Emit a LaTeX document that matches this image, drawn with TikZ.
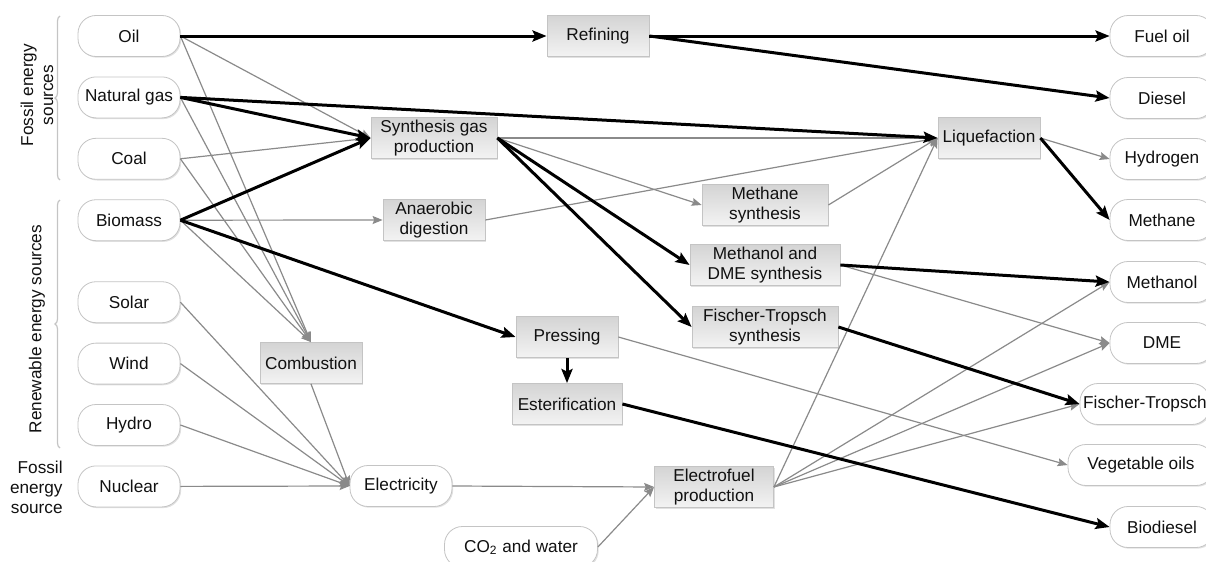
\documentclass[tikz,border=0pt]{standalone}
\usepackage{fontspec}
\setmainfont{Liberation Sans}
\usetikzlibrary{arrows.meta,positioning,shadows,decorations.pathreplacing}
\definecolor{Ink}{HTML}{111111}
\definecolor{Edge}{HTML}{C4C4C4}
\definecolor{Flow}{HTML}{8A8A8A}
\definecolor{BoxTop}{HTML}{D4D4D4}
\definecolor{BoxBottom}{HTML}{F3F3F3}
\definecolor{Shade}{HTML}{A8A8A8}

\begin{document}
\begin{tikzpicture}[
      x=0.5pt,y=-0.5pt,
      node distance=9.8pt,
      every node/.style={font=\fontsize{8.6}{10}\selectfont,text=Ink},
      pill/.style={draw=Edge,fill=white,rounded corners=9pt,align=center,
        minimum width=51pt,minimum height=20.5pt,inner sep=1pt,
        drop shadow={shadow xshift=0.6pt,shadow yshift=-0.6pt,fill=Shade,opacity=0.35}},
      box/.style={draw=Edge,top color=BoxTop,bottom color=BoxBottom,align=center,
        minimum width=51pt,minimum height=20.5pt,inner sep=1pt,
        drop shadow={shadow xshift=0.6pt,shadow yshift=-0.6pt,fill=Shade,opacity=0.35}},
      arrow/.style={-{Stealth[length=7pt,width=5.5pt,inset=1.2pt]},line width=1.5pt,color=black},
      flow/.style={-{Stealth[length=5pt,width=4pt,inset=0.8pt]},line width=0.6pt,color=Flow},
      bracket/.style={decorate,decoration={brace,amplitude=2.5pt},draw=Edge,line width=0.6pt}
    ]
      \useasboundingbox (0,0) rectangle (1206,562);

      % sources
      \node[pill] (oil) at (129,36) {Oil};
      \node[pill,below=of oil] (natgas) {Natural gas};
      \node[pill,below=of natgas] (coal) {Coal};
      \node[pill,below=of coal] (biomass) {Biomass};
      \node[pill,below=20.1pt of biomass] (solar) {Solar};
      \node[pill,below=of solar] (wind) {Wind};
      \node[pill,below=of wind] (hydro) {Hydro};
      \node[pill,below=of hydro] (nuclear) {Nuclear};

      \draw[bracket] (60,180) -- (60,16);
      \draw[bracket] (60,448) -- (60,200);
      \node[rotate=90,align=center] (fossiltag) at (37,95) {Fossil energy\\sources};
      \node[rotate=90] (renewtag) at (37,329) {Renewable energy sources};
      \node[align=right,anchor=east,inner sep=0pt] (nucleartag) at (63,487) {Fossil\\energy\\source};

      % processes
      \node[box] (refining) at (598,36) {Refining};
      \node[box,minimum width=63pt] (syngas) at (434,138) {Synthesis gas\\production};
      \node[box] (anaerobic) at (434,220) {Anaerobic\\digestion};
      \node[box,minimum width=63pt] (methsyn) at (765,205) {Methane\\synthesis};
      \node[box,minimum width=75pt] (methanolsyn) at (765,265) {Methanol and\\DME synthesis};
      \node[box,minimum width=73pt] (ftsyn) at (765,327) {Fischer-Tropsch\\synthesis};
      \node[box] (liquefaction) at (989,138) {Liquefaction};
      \node[box] (combustion) at (311,363) {Combustion};
      \node[box] (pressing) at (567,337) {Pressing};
      \node[box,minimum width=55pt,below=12.6pt of pressing] (esterification) {Esterification};
      \node[box,minimum width=59.5pt] (electrofuel) at (714,487) {Electrofuel\\production};
      \node[pill] (electricity) at (401,486) {Electricity};
      \node[pill,minimum width=76.5pt] (co2) at (521,547) {CO\textsubscript{2} and water};

      % products
      \node[pill,minimum width=52pt] (fueloil) at (1162,36) {Fuel oil};
      \node[pill,minimum width=52pt] (diesel) at (1162,98) {Diesel};
      \node[pill,minimum width=52pt] (hydrogen) at (1162,159) {Hydrogen};
      \node[pill,minimum width=52pt] (methane) at (1162,220) {Methane};
      \node[pill,minimum width=52pt] (methanol) at (1162,282) {Methanol};
      \node[pill,minimum width=52pt] (dme) at (1162,343) {DME};
      \node[pill,minimum width=65pt] (ft) at (1145,404) {Fischer-Tropsch};
      \node[pill,minimum width=73pt] (vegoils) at (1141,465) {Vegetable oils};
      \node[pill,minimum width=52pt] (biodiesel) at (1162,527) {Biodiesel};

      % thin flows
      \draw[flow] (oil.east) -- (syngas.west);
      \draw[flow] (oil.east) -- (combustion.north);
      \draw[flow] (natgas.east) -- (combustion.north);
      \draw[flow] (coal.east) -- (syngas.west);
      \draw[flow] (coal.east) -- (combustion.north);
      \draw[flow] (biomass.east) -- (anaerobic.west);
      \draw[flow] (biomass.east) -- (combustion.north);
      \draw[flow] (solar.east) -- (electricity.west);
      \draw[flow] (wind.east) -- (electricity.west);
      \draw[flow] (hydro.east) -- (electricity.west);
      \draw[flow] (nuclear.east) -- (electricity.west);
      \draw[flow] (combustion.south) -- (electricity.west);
      \draw[flow] (electricity.east) -- (electrofuel.west);
      \draw[flow] (co2.east) -- (electrofuel.west);
      \draw[flow] (syngas.east) -- (liquefaction.west);
      \draw[flow] (syngas.east) -- (methsyn.west);
      \draw[flow] (anaerobic.east) -- (liquefaction.west);
      \draw[flow] (methsyn.east) -- (liquefaction.west);
      \draw[flow] (electrofuel.east) -- (liquefaction.west);
      \draw[flow] (electrofuel.east) -- (methanol.west);
      \draw[flow] (electrofuel.east) -- (dme.west);
      \draw[flow] (electrofuel.east) -- (ft.west);
      \draw[flow] (liquefaction.east) -- (hydrogen.west);
      \draw[flow] (methanolsyn.east) -- (dme.west);
      \draw[flow] (pressing.east) -- (vegoils.west);

      % main routes
      \draw[arrow] (oil.east) -- (refining.west);
      \draw[arrow] (refining.east) -- (fueloil.west);
      \draw[arrow] (refining.east) -- (diesel.west);
      \draw[arrow] (natgas.east) -- (liquefaction.west);
      \draw[arrow] (natgas.east) -- (syngas.west);
      \draw[arrow] (biomass.east) -- (syngas.west);
      \draw[arrow] (biomass.east) -- (pressing.west);
      \draw[arrow] (pressing.south) -- (esterification.north);
      \draw[arrow] (esterification.east) -- (biodiesel.west);
      \draw[arrow] (syngas.east) -- (methanolsyn.west);
      \draw[arrow] (syngas.east) -- (ftsyn.west);
      \draw[arrow] (methanolsyn.east) -- (methanol.west);
      \draw[arrow] (ftsyn.east) -- (ft.west);
      \draw[arrow] (liquefaction.east) -- (methane.west);
    \end{tikzpicture}
\end{document}
